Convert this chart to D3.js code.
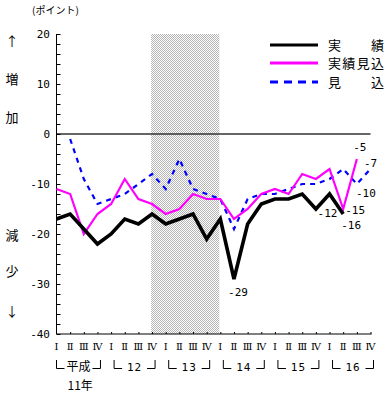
<!DOCTYPE html>
<html><head><meta charset="utf-8">
<script src="https://cdn.jsdelivr.net/npm/d3@7/dist/d3.min.js"></script>
<style>
html,body{margin:0;padding:0;background:#fff;}
svg{display:block;}
</style>
</head><body>
<svg id="chart" width="390" height="395"></svg>
<script>
// ---- data ----
const quarterLabels = ["Ⅰ","Ⅱ","Ⅲ","Ⅳ"];
const yearGroups = ["平成","12","13","14","15","16"];
const firstYearSuffix = "11年";
const categories = [];
yearGroups.forEach((y,yi)=>quarterLabels.forEach((q,qi)=>categories.push(yi*4+qi)));
const jisseki   = [-17,-16,-19,-22,-20,-17,-18,-16,-18,-17,-16,-21,-17,-29,-18,-14,-13,-13,-12,-15,-12,-16,null,null];
const jissekiMikomi = [-11,-12,-20,-16,-14,-9,-13,-14,-16,-15,-12,-13,-13,-17,-15,-12,-11,-12,-8,-9,-7,-15,-5,null];
const mikomi    = [null,-1,-9,-14,-13,-12,-10,-8,-11,-5,-11,-12,-13,-19,-13,-12,-12,-11,-10,-10,-9,-7,-10,-7];
const yTickValues = [20,10,0,-10,-20,-30,-40];
const recession = [7,12]; // 平成12年Ⅳ期 ～ 平成14年Ⅰ期
const legendNames = ["実績","実績見込","見込"];
const pointLabels = [
  {s:"jisseki", i:13, t:"-29"},
  {s:"jisseki", i:20, t:"-12"},
  {s:"jisseki", i:21, t:"-16"},
  {s:"jissekiMikomi", i:21, t:"-15"},
  {s:"jissekiMikomi", i:22, t:"-5"},
  {s:"mikomi", i:23, t:"-7"},
  {s:"mikomi", i:22, t:"-10"}
];

// ---- drawing ----
const svg = d3.select("#chart");
const x = d3.scaleLinear().domain([0,23]).range([56.5,370.5]);
const y = d3.scaleLinear().domain([-40,20]).range([334,34]);
const cjk = "'Noto Sans CJK JP','Noto Sans',sans-serif";
const mono = "'DejaVu Sans Mono','Liberation Mono',monospace";

// checkered pattern for recession shading
const defs = svg.append("defs");
const pat = defs.append("pattern").attr("id","chk").attr("width",2).attr("height",2).attr("patternUnits","userSpaceOnUse");
pat.append("rect").attr("width",2).attr("height",2).attr("fill","#ffffff");
pat.append("rect").attr("x",0).attr("y",0).attr("width",1).attr("height",1).attr("fill","#b4b4b4");
pat.append("rect").attr("x",1).attr("y",1).attr("width",1).attr("height",1).attr("fill","#b4b4b4");

svg.append("rect")
  .attr("x", x(recession[0])-1).attr("y", y(20))
  .attr("width", x(recession[1])-x(recession[0])).attr("height", y(-40)-y(20))
  .attr("fill","url(#chk)");

// zero line
svg.append("line").attr("x1",x(0)).attr("x2",x(23)).attr("y1",y(0)).attr("y2",y(0))
  .attr("stroke","#333").attr("stroke-width",1.5);

// y axis
const yAxis = d3.axisRight(y).tickValues(d3.range(-40,21,2)).tickSize(4).tickFormat("");
const gy = svg.append("g").attr("transform",`translate(${x(0)},0)`).call(yAxis);
gy.select(".domain").attr("stroke","#000").attr("d",`M0,${y(20)}V${y(-40)}`);
gy.selectAll(".tick line").attr("stroke","#000");
svg.append("g").selectAll("text").data(yTickValues).join("text")
  .attr("x",50).attr("y",d=>y(d)+4).attr("text-anchor","end")
  .attr("font-family",mono).attr("font-size",11).attr("fill","#000")
  .text(d=>d);

// x axis
const xAxis = d3.axisTop(x).tickValues(d3.range(1,24)).tickSize(2).tickFormat("");
const gx = svg.append("g").attr("transform",`translate(0,${y(-40)})`).call(xAxis);
gx.select(".domain").attr("stroke","#000").attr("d",`M${x(0)},0H${x(23)+1}`);
gx.selectAll(".tick line").attr("stroke","#000");

svg.append("g").selectAll("text").data(categories).join("text")
  .attr("x",d=>x(d)).attr("y",350).attr("text-anchor","middle")
  .attr("font-family","'DejaVu Serif','Liberation Serif',serif").attr("font-size",10).attr("fill","#000")
  .text(d=>quarterLabels[d%4]);

// year brackets
const gb = svg.append("g");
yearGroups.forEach((yl,j)=>{
  const l = x(j*4) + (j===0?0:3), r = x(j*4+3) + 3;
  gb.append("path").attr("d",`M${l},360V368.5H${l+8}`).attr("fill","none").attr("stroke","#000").attr("stroke-width",1);
  gb.append("path").attr("d",`M${r-8},368.5H${r}V360`).attr("fill","none").attr("stroke","#000").attr("stroke-width",1);
  gb.append("text").attr("x",(l+r)/2).attr("y",371).attr("text-anchor","middle")
    .attr("font-family", j===0?cjk:mono).attr("font-size", j===0?12:11).attr("fill","#000")
    .attr("letter-spacing", j===0?0:1)
    .text(yl);
});
svg.append("text").attr("x",x(1)+10).attr("y",390).attr("text-anchor","middle")
  .attr("font-family",cjk).attr("font-size",12).attr("fill","#000").text(firstYearSuffix);

// lines
const series = {
  jisseki:{vals:jisseki,color:"#000",w:3.6,dash:null},
  jissekiMikomi:{vals:jissekiMikomi,color:"#ff00ff",w:2.2,dash:null},
  mikomi:{vals:mikomi,color:"#0000ff",w:2.2,dash:"5,5"}
};
const line = d3.line().defined(d=>d.v!==null).x(d=>x(d.i)).y(d=>y(d.v));
["mikomi","jissekiMikomi","jisseki"].forEach(k=>{
  const s = series[k];
  svg.append("path").datum(s.vals.map((v,i)=>({i,v})))
    .attr("d",line).attr("fill","none").attr("stroke",s.color)
    .attr("stroke-width",s.w).attr("stroke-linejoin","miter")
    .attr("stroke-dasharray",s.dash);
});

// point labels
const labelOffsets = {
  "jisseki13":[4,17], "jisseki20":[-2,23], "jisseki21":[8,15],
  "jissekiMikomi21":[12,5], "jissekiMikomi22":[3,-8], "mikomi23":[0,-2], "mikomi22":[9,13]
};
svg.append("g").selectAll("text").data(pointLabels).join("text")
  .attr("x",d=>x(d.i)+labelOffsets[d.s+d.i][0])
  .attr("y",d=>y(series[d.s].vals[d.i])+labelOffsets[d.s+d.i][1])
  .attr("text-anchor","middle").attr("font-family",mono).attr("font-size",11).attr("fill","#000")
  .text(d=>d.t);

// legend
const lg = svg.append("g");
const legendKeys = ["jisseki","jissekiMikomi","mikomi"];
const legendY = [45,63,82];
legendKeys.forEach((k,i)=>{
  const s = series[k];
  lg.append("line").attr("x1",270).attr("x2",318).attr("y1",legendY[i]).attr("y2",legendY[i])
    .attr("stroke",s.color).attr("stroke-width",3)
    .attr("stroke-dasharray",k==="mikomi"?"8,6":null);
  const name = legendNames[i];
  if(name.length===2){
    lg.append("text").attr("x",328).attr("y",legendY[i]+5).attr("font-family",cjk).attr("font-size",13).text(name[0]);
    lg.append("text").attr("x",384).attr("y",legendY[i]+5).attr("text-anchor","end").attr("font-family",cjk).attr("font-size",13).text(name[1]);
  } else {
    lg.append("text").attr("x",328).attr("y",legendY[i]+5).attr("font-family",cjk).attr("font-size",13)
      .attr("textLength",56).text(name);
  }
});

// left annotations
svg.append("text").attr("x",32).attr("y",14).attr("font-family",cjk).attr("font-size",10).text("(ポイント)");
const side = [["↑",46],["増",84],["加",122],["減",240],["少",276],["↓",316]];
svg.append("g").selectAll("text").data(side).join("text")
  .attr("x",12).attr("y",d=>d[1]).attr("text-anchor","middle")
  .attr("font-family",cjk).attr("font-size",13).text(d=>d[0]);
</script>
</body></html>
